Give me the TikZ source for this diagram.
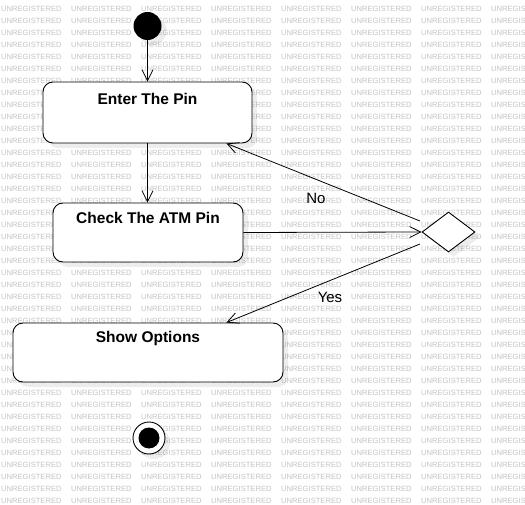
\documentclass[tikz,border=0pt]{standalone}
\usepackage{fontspec}
\setmainfont{Liberation Sans}
\usetikzlibrary{arrows.meta,shapes.geometric,shadows}
\begin{document}
\begin{tikzpicture}[x=1pt,y=-1pt,
  wm/.style={anchor=west,inner sep=0pt,text=black!23,font=\fontsize{7.6}{8}\selectfont},
  shad/.style={drop shadow={shadow xshift=5pt,shadow yshift=-5pt,fill=black,opacity=0.07}},
  statebox/.style={draw=black,line width=0.9pt,fill=white,rounded corners=10pt,shad,inner sep=0pt},
  boxtext/.style={font=\bfseries\fontsize{15.5}{18}\selectfont,inner sep=0pt},
  lbl/.style={font=\fontsize{15}{18}\selectfont,inner sep=0pt},
  flow/.style={draw=black,line width=0.8pt,-{Straight Barb[length=11pt,width=11pt,line width=0.8pt]}}]
\useasboundingbox (0,0) rectangle (525,505);
\fill[white] (0,0) rectangle (525,505);
% watermark (tiles fully hidden under the white boxes are left out)
\foreach \k in {0,...,41}{
  \foreach \j in {0,...,7}{
    \pgfmathtruncatemacro\skipit{((\j>0)&&(\j<3)&&(((\k>6)&&(\k<11))||((\k>16)&&(\k<21)))) || ((\j>0)&&(\j<4)&&(\k>26)&&(\k<31))}
    \ifnum\skipit=0
      \node[wm] (wm-\k-\j) at ({1+70*\j},{8.5+12*\k}) {UNREGISTERED};
    \fi
  }
}
% nodes
\node[circle,fill=black,minimum size=28pt,inner sep=0pt,shad] (init) at (147.5,26) {};
\node[statebox,minimum width=209pt,minimum height=61pt] (enter) at (147.5,112.5) {};
\node[boxtext] (entert) at (147.5,99) {Enter The Pin};
\node[statebox,minimum width=190pt,minimum height=59pt] (check) at (148,232.5) {};
\node[boxtext] (checkt) at (148,218) {Check The ATM Pin};
\node[statebox,minimum width=270pt,minimum height=59pt] (show) at (148,352.5) {};
\node[boxtext] (showt) at (148,338) {Show Options};
\node[diamond,draw=black,line width=0.9pt,fill=white,minimum width=53pt,minimum height=40pt,inner sep=0pt,shad] (dia) at (448.5,232) {};
\node[circle,draw=black,line width=0.9pt,fill=white,minimum size=32pt,inner sep=0pt,shad] (fin) at (149,438) {};
\node[circle,fill=black,minimum size=21pt,inner sep=0pt] (fini) at (fin) {};
% connectors
\coordinate (noS) at (420,221);
\coordinate (yesS) at (420,244);
\draw[flow] (init) -- (enter.north);
\draw[flow] (enter.south) -- (enter.south |- check.north);
\draw[flow] (check.east) -- (dia.west);
\draw[flow] (noS) -- ([xshift=-26pt]enter.south east);
\draw[flow] (yesS) -- ([xshift=-57pt]show.north east);
\node[lbl] (no) at (316,198) {No};
\node[lbl] (yes) at (330,297) {Yes};
\end{tikzpicture}
\end{document}
